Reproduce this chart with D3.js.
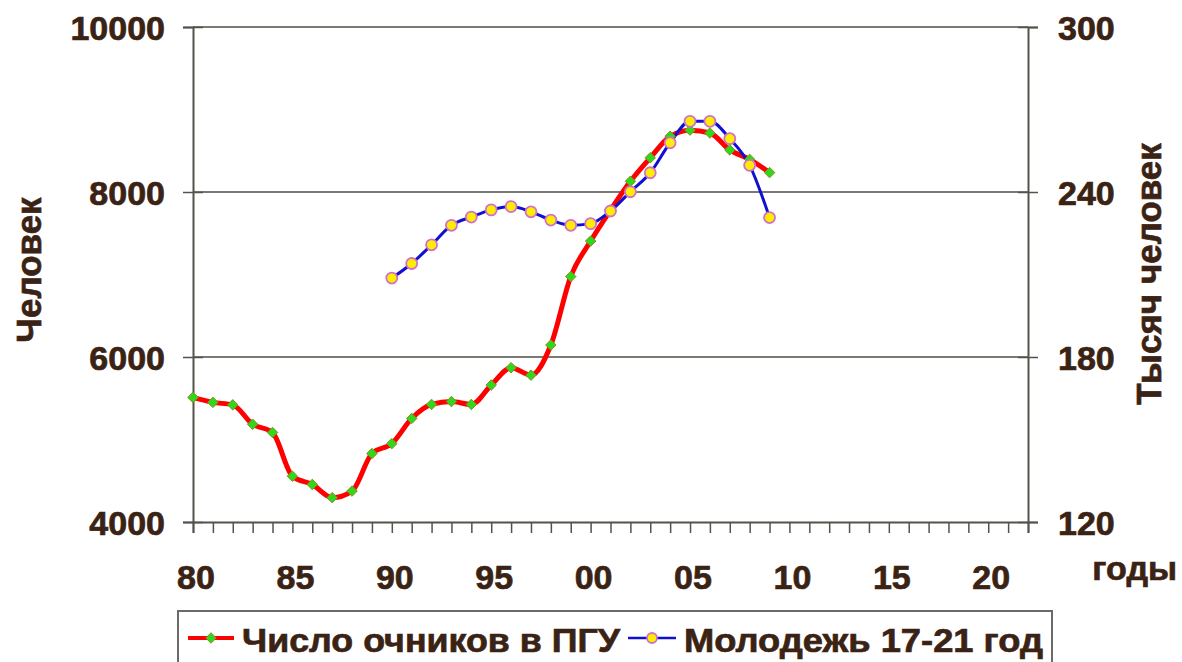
<!DOCTYPE html>
<html>
<head>
<meta charset="utf-8">
<script src="https://cdn.jsdelivr.net/npm/d3@7"></script>
<style>
  html, body { margin: 0; padding: 0; background: #fff; }
  svg { display: block; }
  text { font-family: "Liberation Sans", Arial, sans-serif; font-weight: bold; fill: #3a2314; stroke: #3a2314; stroke-width: 0.7px; }
</style>
</head>
<body>
<svg width="1182" height="662"></svg>
<script>
// students of PGU (full-time), persons
const studentYears = [1980, 1981, 1982, 1983, 1984, 1985, 1986, 1987, 1988, 1989,
    1990, 1991, 1992, 1993, 1994, 1995, 1996, 1997, 1998, 1999,
    2000, 2001, 2002, 2003, 2004, 2005, 2006, 2007, 2008, 2009];
const studentValues = [5510, 5450, 5420, 5185, 5085, 4555, 4455, 4295, 4375, 4830,
    4950, 5255, 5425, 5460, 5425, 5660, 5870, 5780, 6145, 6975,
    7405, 7780, 8130, 8415, 8675, 8750, 8715, 8510, 8395, 8235];

// youth 17-21, thousand persons
const youthYears = [1990, 1991, 1992, 1993, 1994, 1995, 1996, 1997, 1998, 1999,
    2000, 2001, 2002, 2003, 2004, 2005, 2006, 2007, 2008, 2009];
const youthValues = [208.7, 214.0, 220.8, 227.9, 230.9, 233.5, 234.7, 232.8, 229.8, 227.9,
    228.5, 233.1, 240.1, 247.0, 257.9, 265.7, 265.7, 259.4, 249.7, 230.7];

const leftTicks = [4000, 6000, 8000, 10000];
const rightTicks = [120, 180, 240, 300];
const yearLabels = [1980, 1985, 1990, 1995, 2000, 2005, 2010, 2015, 2020];
const seriesNames = ["Число очников в ПГУ", "Молодежь 17-21 год"];

const svg = d3.select("svg");
const plotLeft = 193, plotRight = 1028, plotTop = 27, plotBottom = 522;

const x = d3.scaleLinear().domain([1980, 2022]).range([plotLeft, plotRight]);
const yL = d3.scaleLinear().domain([4000, 10000]).range([plotBottom, plotTop]);
const yR = d3.scaleLinear().domain([120, 300]).range([plotBottom, plotTop]);

// gridlines
svg.append("g")
    .selectAll("line")
    .data(leftTicks.filter(d => d > 4000))
    .enter()
    .append("line")
    .attr("x1", plotLeft).attr("x2", plotRight)
    .attr("y1", d => yL(d)).attr("y2", d => yL(d))
    .attr("stroke", "#7a7a72")
    .attr("stroke-width", 2);

// x axis: year ticks
const xAxis = svg.append("g")
    .attr("transform", `translate(0,${plotBottom})`)
    .call(d3.axisBottom(x).tickValues(d3.range(1980, 2023)).tickSize(11).tickFormat(""));
xAxis.select(".domain").attr("stroke", "#55524c").attr("stroke-width", 2);
xAxis.selectAll(".tick line").attr("stroke", "#55524c").attr("stroke-width", 1.5);

// x labels
svg.append("g")
    .selectAll("text")
    .data(yearLabels)
    .enter()
    .append("text")
    .attr("x", d => x(d) + 3)
    .attr("y", 589)
    .attr("text-anchor", "middle")
    .style("font-size", "34px")
    .text(d => String(d % 100).padStart(2, "0"));

// left axis
const yAxisL = svg.append("g")
    .attr("transform", `translate(${plotLeft},0)`)
    .call(d3.axisLeft(yL).tickValues(leftTicks).tickSize(10).tickFormat(d3.format("d")).tickPadding(18));
yAxisL.select(".domain").attr("stroke", "#55524c").attr("stroke-width", 2);
yAxisL.selectAll(".tick line").attr("x1", 10).attr("stroke", "#55524c").attr("stroke-width", 1.5);
yAxisL.selectAll(".tick text")
    .style("font-size", "34px")
    .attr("dy", "0.36em")
    .style("font-family", "'Liberation Sans', Arial, sans-serif")
    .style("fill", "#3a2314");

// right axis
const yAxisR = svg.append("g")
    .attr("transform", `translate(${plotRight},0)`)
    .call(d3.axisRight(yR).tickValues(rightTicks).tickSize(10).tickPadding(20));
yAxisR.select(".domain").attr("stroke", "#55524c").attr("stroke-width", 2);
yAxisR.selectAll(".tick line").attr("x1", -10).attr("stroke", "#55524c").attr("stroke-width", 1.5);
yAxisR.selectAll(".tick text")
    .style("font-size", "34px")
    .attr("dy", "0.36em")
    .style("font-family", "'Liberation Sans', Arial, sans-serif")
    .style("fill", "#3a2314");

// axis titles
svg.append("text")
    .attr("transform", "translate(41,270) rotate(-90)")
    .attr("text-anchor", "middle")
    .style("font-size", "35px")
    .text("Человек");

svg.append("text")
    .attr("transform", "translate(1161,274) rotate(-90)")
    .attr("text-anchor", "middle")
    .style("font-size", "35px")
    .text("Тысяч человек");

svg.append("text")
    .attr("x", 1177)
    .attr("y", 580)
    .attr("text-anchor", "end")
    .style("font-size", "34px")
    .text("годы");

// series
const students = studentYears.map((yr, i) => ({ yr, v: studentValues[i] }));
const youth = youthYears.map((yr, i) => ({ yr, v: youthValues[i] }));

const curve = d3.curveMonotoneX;

svg.append("path")
    .datum(students)
    .attr("fill", "none")
    .attr("stroke", "#ff0000")
    .attr("stroke-width", 5)
    .attr("stroke-linejoin", "round")
    .attr("d", d3.line().x(d => x(d.yr)).y(d => yL(d.v)).curve(curve));

svg.append("path")
    .datum(youth)
    .attr("fill", "none")
    .attr("stroke", "#1010d0")
    .attr("stroke-width", 3)
    .attr("d", d3.line().x(d => x(d.yr)).y(d => yR(d.v)).curve(curve));

const diamond = d3.symbol().type(d3.symbolDiamond2).size(70);

svg.append("g")
    .selectAll("path")
    .data(students)
    .enter()
    .append("path")
    .attr("d", diamond)
    .attr("transform", d => `translate(${x(d.yr)},${yL(d.v)})`)
    .attr("fill", "#2fd81a")
    .attr("stroke", "#8a8a20")
    .attr("stroke-width", 1);

svg.append("g")
    .selectAll("circle")
    .data(youth)
    .enter()
    .append("circle")
    .attr("cx", d => x(d.yr))
    .attr("cy", d => yR(d.v))
    .attr("r", 5.5)
    .attr("fill", "#ffee00")
    .attr("stroke", "#d070c8")
    .attr("stroke-width", 1.8);

// legend
const legend = svg.append("g");
legend.append("rect")
    .attr("x", 178).attr("y", 611)
    .attr("width", 874).attr("height", 70)
    .attr("fill", "#fff")
    .attr("stroke", "#6a6a66")
    .attr("stroke-width", 2);

legend.append("line")
    .attr("x1", 188).attr("x2", 234).attr("y1", 638).attr("y2", 638)
    .attr("stroke", "#ff0000").attr("stroke-width", 4);
legend.append("path")
    .attr("d", diamond)
    .attr("transform", "translate(211,638)")
    .attr("fill", "#2fd81a")
    .attr("stroke", "#8a8a20");
legend.append("text")
    .attr("x", 242).attr("y", 652)
    .attr("textLength", 378)
    .attr("lengthAdjust", "spacingAndGlyphs")
    .style("font-size", "34px")
    .text(seriesNames[0]);

legend.append("line")
    .attr("x1", 628).attr("x2", 676).attr("y1", 638).attr("y2", 638)
    .attr("stroke", "#1010d0").attr("stroke-width", 2.5);
legend.append("circle")
    .attr("cx", 652).attr("cy", 638).attr("r", 5)
    .attr("fill", "#ffee00")
    .attr("stroke", "#d070c8")
    .attr("stroke-width", 1.8);
legend.append("text")
    .attr("x", 684).attr("y", 652)
    .attr("textLength", 359)
    .attr("lengthAdjust", "spacingAndGlyphs")
    .style("font-size", "34px")
    .text(seriesNames[1]);
</script>
</body>
</html>
